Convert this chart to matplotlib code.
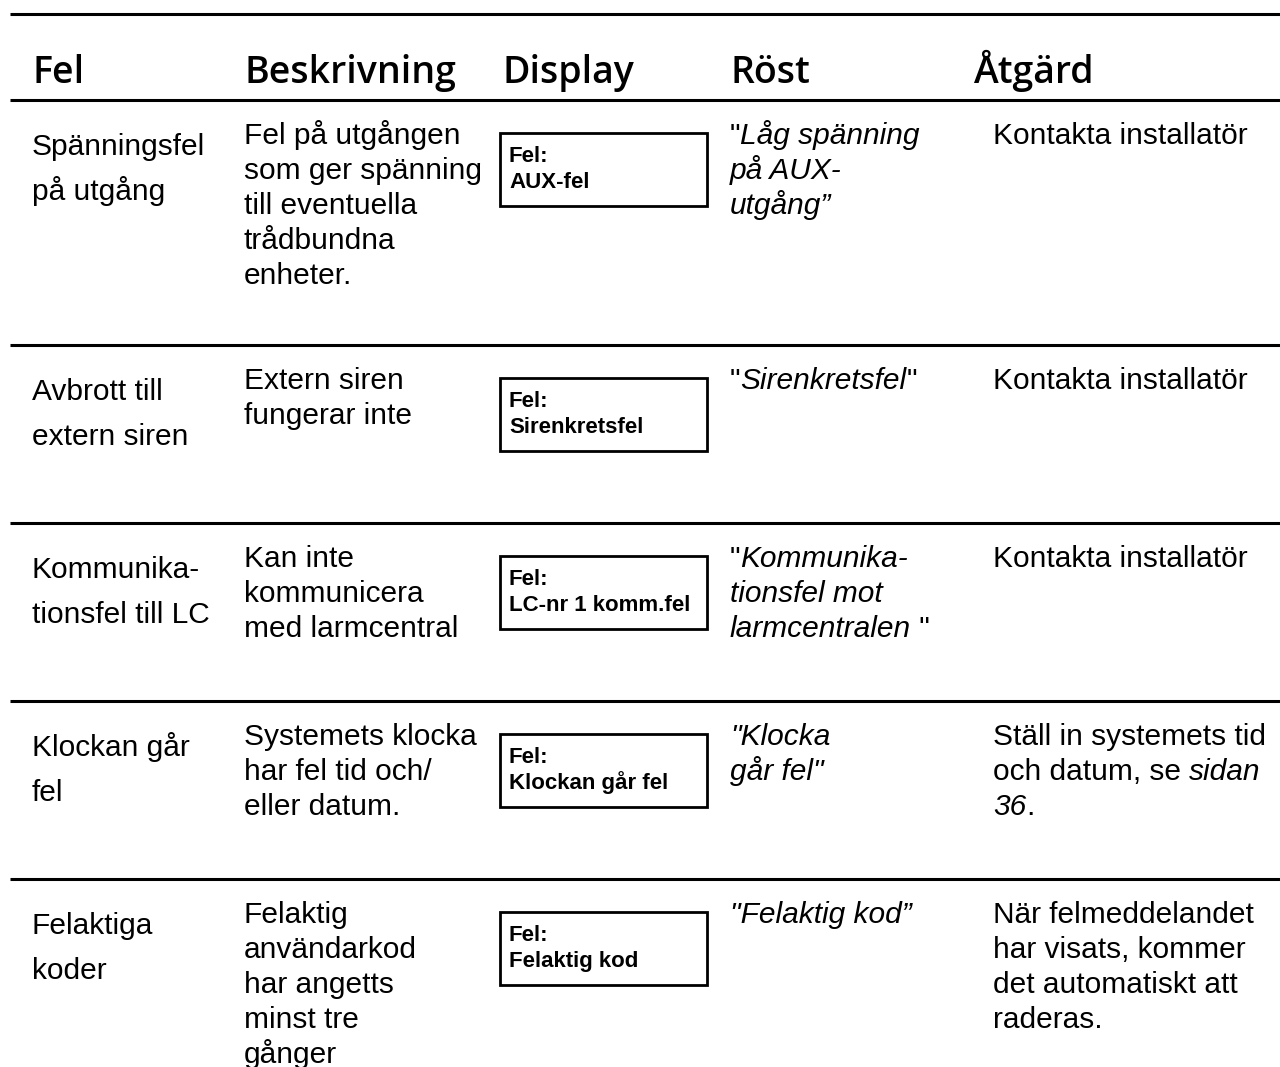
import matplotlib
matplotlib.use('Agg')
import matplotlib.pyplot as plt
from matplotlib.patches import Rectangle

# tabellens innehåll, _text_ = kursiv
headers = ['Fel', 'Beskrivning', 'Display', 'Röst', 'Åtgärd']
fel = [['Spänningsfel', 'på utgång'],
       ['Avbrott till', 'extern siren'],
       ['Kommunika-', 'tionsfel till LC'],
       ['Klockan går', 'fel'],
       ['Felaktiga', 'koder']]
beskrivning = [['Fel på utgången', 'som ger spänning', 'till eventuella', 'trådbundna', 'enheter.'],
               ['Extern siren', 'fungerar inte'],
               ['Kan inte', 'kommunicera', 'med larmcentral'],
               ['Systemets klocka', 'har fel tid och/', 'eller datum.'],
               ['Felaktig', 'användarkod', 'har angetts', 'minst tre', 'gånger']]
display = [['Fel:', 'AUX-fel'],
           ['Fel:', 'Sirenkretsfel'],
           ['Fel:', 'LC-nr 1 komm.fel'],
           ['Fel:', 'Klockan går fel'],
           ['Fel:', 'Felaktig kod']]
rost = [['"_Låg spänning_', '_på AUX-_', '_utgång”_'],
        ['"_Sirenkretsfel_"'],
        ['"_Kommunika-_', '_tionsfel mot_', '_larmcentralen_ "'],
        ['_"Klocka_', '_går fel"_'],
        ['_"Felaktig kod”_']]
atgard = [['Kontakta installatör'],
          ['Kontakta installatör'],
          ['Kontakta installatör'],
          ['Ställ in systemets tid', 'och datum, se _sidan_', '_36_.'],
          ['När felmeddelandet', 'har visats, kommer', 'det automatiskt att', 'raderas.']]

W, H = 1280, 1067
fig = plt.figure(figsize=(W / 100, H / 100), dpi=100)
ax = fig.add_axes([0, 0, 1, 1])
ax.set_xlim(0, W)
ax.set_ylim(H, 0)
ax.axis('off')
renderer = fig.canvas.get_renderer()

BODY = 'Liberation Sans'
HEAD = 'Open Sans'
fs = 21.5
col_x = [32, 244, 502, 730, 973]
row_top = [100, 345, 523, 701, 879]


def draw_runs(x, y, line, **kw):
    # ritar en rad med blandad kursiv/rak stil
    parts = line.split('_')
    for i, p in enumerate(parts):
        if not p:
            continue
        t = ax.text(x, y, p, fontsize=fs, family=BODY,
                    style='italic' if i % 2 else 'normal', va='baseline', **kw)
        x += t.get_window_extent(renderer).width


# linjer
ax.plot([10, W], [14, 14], color='black', lw=2.2, solid_capstyle='butt')
for y in row_top:
    ax.plot([10, W], [y, y], color='black', lw=2.2, solid_capstyle='butt')

for x, h in zip(col_x, headers):
    ax.text(x, 83, h, fontsize=27, family=HEAD, weight='semibold', va='baseline')

for r, top in enumerate(row_top):
    for k, line in enumerate(fel[r]):
        ax.text(col_x[0], top + 55 + 45 * k, line, fontsize=fs, family=BODY, va='baseline')
    for k, line in enumerate(beskrivning[r]):
        ax.text(col_x[1], top + 44 + 35 * k, line, fontsize=fs, family=BODY, va='baseline')
    ax.add_patch(Rectangle((500, top + 33), 207, 73, fill=False, lw=2, ec='black'))
    for k, line in enumerate(display[r]):
        ax.text(509, top + 62 + 26 * k, line, fontsize=16, family=BODY,
                weight='bold', va='baseline')
    for k, line in enumerate(rost[r]):
        draw_runs(col_x[3], top + 44 + 35 * k, line)
    for k, line in enumerate(atgard[r]):
        draw_runs(993, top + 44 + 35 * k, line)

fig.savefig('out.png', dpi=100)
